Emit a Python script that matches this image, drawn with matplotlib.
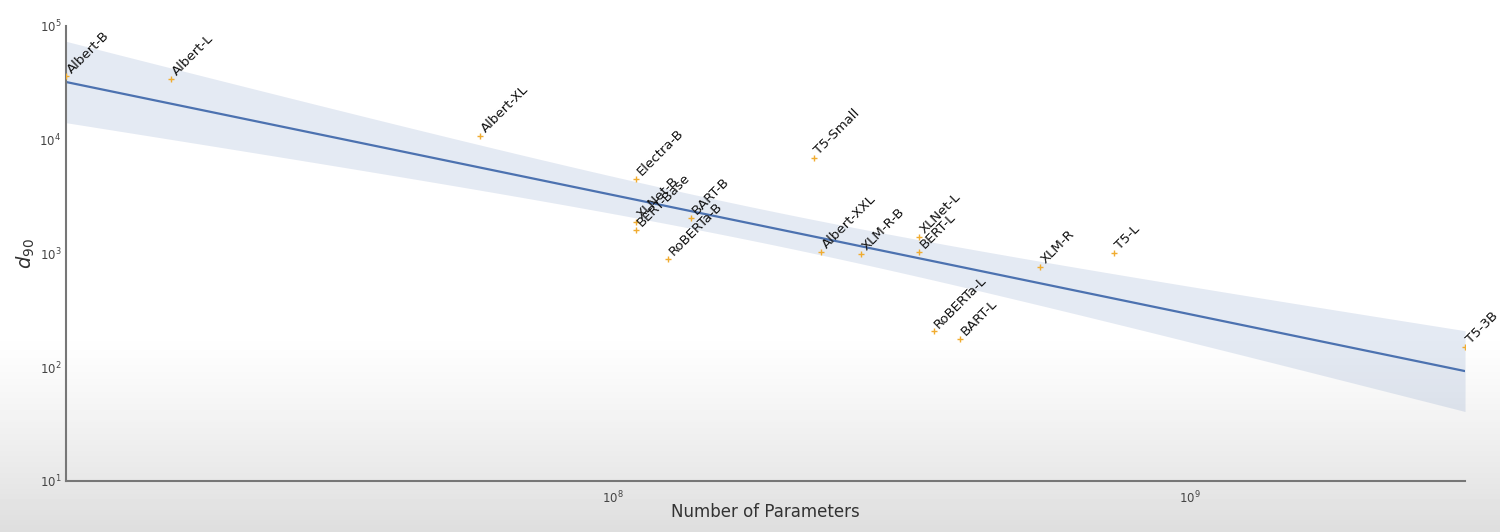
import numpy as np
import matplotlib
matplotlib.use('Agg')
import matplotlib.pyplot as plt

# 模型名称、参数量与 d90
models = ['Albert-B', 'Albert-L', 'Albert-XL', 'Electra-B', 'XLNet-B', 'BERT-Base',
          'RoBERTa-B', 'BART-B', 'T5-Small', 'Albert-XXL', 'XLM-R-B', 'XLNet-L',
          'BERT-L', 'RoBERTa-L', 'BART-L', 'XLM-R', 'T5-L', 'T5-3B']
params = [11.3e6, 17.2e6, 59e6, 110e6, 110e6, 110e6,
          125e6, 137e6, 223e6, 230e6, 270e6, 340e6,
          340e6, 360e6, 400e6, 550e6, 740e6, 3.0e9]
d90 = [36000, 34200, 10800, 4520, 1890, 1608,
       896, 2050, 6920, 1030, 990, 1400,
       1030, 207, 177, 760, 1010, 151]

x = np.log10(params)
y = np.log10(d90)

# 对数空间线性回归 + 置信区间
n = len(x)
slope, intercept = np.polyfit(x, y, 1)
resid = y - (slope * x + intercept)
s = np.sqrt(np.sum(resid ** 2) / (n - 2))
sxx = np.sum((x - x.mean()) ** 2)
t_val = 1.75
xs = np.linspace(x.min(), x.max(), 200)
ys = slope * xs + intercept
half = t_val * s * np.sqrt(1.0 / n + (xs - x.mean()) ** 2 / sxx)

fig = plt.figure(figsize=(15, 5.32), dpi=100)

# 背景渐变（截图底部的灰色）
bg = fig.add_axes([0, 0, 1, 1], zorder=-10)
grad = np.ones((532, 1))
rows = np.arange(532)
start = 330
grad[start:, 0] = 1.0 - 0.13 * ((rows[start:] - start) / (531 - start)) ** 1.2
bg.imshow(grad, aspect='auto', cmap='gray', vmin=0, vmax=1, extent=[0, 1, 0, 1])
bg.axis('off')

ax = fig.add_axes([0.044, 0.0959, 0.9327, 0.8553])
ax.set_facecolor('none')

ax.fill_between(10 ** xs, 10 ** (ys - half), 10 ** (ys + half),
                color='#4c72b0', alpha=0.15, linewidth=0)
ax.plot(10 ** xs, 10 ** ys, color='#4c72b0', linewidth=1.6)
ax.scatter(params, d90, marker='+', s=14, color='#f0ac30', linewidths=1.0, zorder=3)

for name, px, py in zip(models, params, d90):
    ax.annotate(name, (px, py), xytext=(4, 2), textcoords='offset points',
                rotation=45, fontsize=9.5, color='#111111',
                ha='left', va='baseline', rotation_mode='anchor')

ax.set_xscale('log')
ax.set_yscale('log')
ax.set_xlim(min(params), max(params))
ax.set_ylim(10, 1e5)

for side in ['top', 'right']:
    ax.spines[side].set_visible(False)
for side in ['left', 'bottom']:
    ax.spines[side].set_color('#777777')
    ax.spines[side].set_linewidth(1.5)
ax.tick_params(which='both', length=0, labelsize=8.5, labelcolor='#444444')
ax.tick_params(axis='x', pad=6)
ax.minorticks_off()

ax.set_xlabel('Number of Parameters', fontsize=12, color='#333333', labelpad=-2)
ax.set_ylabel('$d_{90}$', fontsize=14, color='#333333', labelpad=2)

plt.savefig('out.png', dpi=100)
